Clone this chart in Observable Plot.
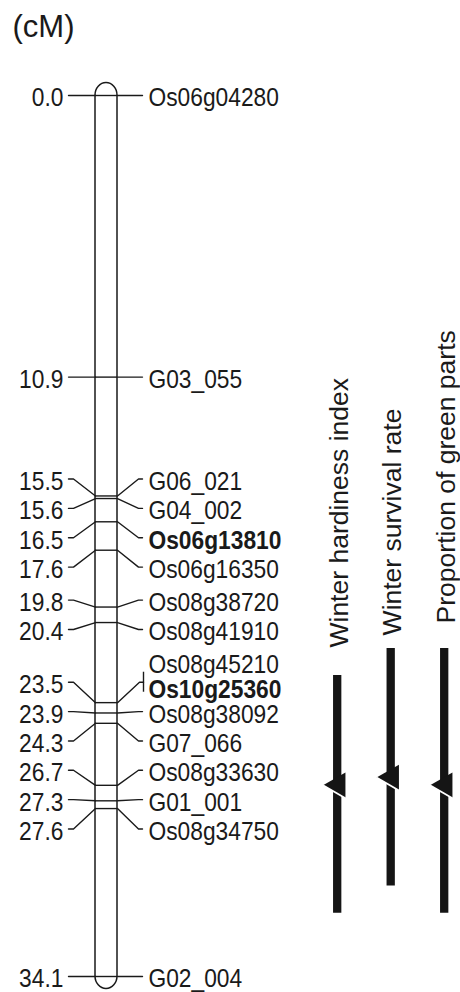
<!DOCTYPE html>
<html><head><meta charset="utf-8">
<script src="https://cdn.jsdelivr.net/npm/d3@7"></script>
<script src="https://cdn.jsdelivr.net/npm/@observablehq/plot@0.6"></script>
<style>
html,body{margin:0;padding:0;background:#fff;}
#chart svg{display:block;}
</style></head><body><div id="chart"></div>
<script>
// ---------- data ----------
const markerNames = ["Os06g04280","G03_055","G06_021","G04_002","Os06g13810","Os06g16350","Os08g38720","Os08g41910","Os08g45210","Os10g25360","Os08g38092","G07_066","Os08g33630","G01_001","Os08g34750","G02_004"];
const markerCM = [0.0,10.9,15.5,15.6,16.5,17.6,19.8,20.4,23.5,23.5,23.9,24.3,26.7,27.3,27.6,34.1];
const boldMarkers = ["Os06g13810","Os10g25360"];
const traits = ["Winter hardiness index","Winter survival rate","Proportion of green parts"];
const qtlStart = [22.45,21.4,21.4];
const qtlEnd = [31.65,30.6,31.65];
const qtlPeak = [26.7,26.4,26.7];
const unitLabel = "(cM)";

// ---------- layout ----------
const W = 460, H = 992, yTop = 95, yBot = 976;
const maxCM = d3.max(markerCM);
const pxPerCM = (yBot - yTop) / maxCM;
const px = v => v / pxPerCM;           // px -> cM offset
const spacing = px(29.35);
const chromL = 95, chromR = 117;
const leftAnchor = 63, rightAnchor = 148;
const ink = "#1a1a1a";
const squeezeX = 0.86;
const textDy = 2.5;

// unique positions + label dodge (clusters centred on the middle of their span)
const positions = Array.from(new Set(markerCM)).sort((a, b) => a - b);
const mk = items => ({items, mid: (d3.min(items) + d3.max(items)) / 2});
let clusters = positions.map(p => mk([p]));
const posOf = (c, i) => c.mid + (i - (c.items.length - 1) / 2) * spacing;
let merged = true;
while (merged) {
  merged = false;
  for (let i = 0; i < clusters.length - 1; i++) {
    const a = clusters[i], b = clusters[i + 1];
    if (posOf(a, a.items.length - 1) + spacing > posOf(b, 0) + 1e-9) {
      clusters.splice(i, 2, mk(a.items.concat(b.items)));
      merged = true; break;
    }
  }
}
const labelPos = new Map();
clusters.forEach(c => c.items.forEach((p, i) => labelPos.set(p, posOf(c, i))));

const leftPaths = [], rightPaths = [], leftLabels = [], rightLabels = [], brackets = [];
positions.forEach((p, k) => {
  const l = labelPos.get(p);
  const names = markerNames.filter((n, i) => markerCM[i] === p);
  leftPaths.push({k, x: 68, y: l}, {k, x: 73, y: l}, {k, x: chromL, y: p});
  leftLabels.push({y: l, text: p.toFixed(1)});
  if (names.length > 1) {
    rightPaths.push({k, x: chromR, y: p}, {k, x: 139, y: l}, {k, x: 143, y: l});
    brackets.push({y1: l - px(10), y2: l + px(10)});
    rightLabels.push({y: l - px(20), text: names[0], bold: boldMarkers.includes(names[0])});
    rightLabels.push({y: l + px(5), text: names[1], bold: boldMarkers.includes(names[1])});
  } else {
    rightPaths.push({k, x: chromR, y: p}, {k, x: 138, y: l}, {k, x: 142, y: l});
    rightLabels.push({y: l, text: names[0], bold: boldMarkers.includes(names[0])});
  }
});

const traitGap = [28, 13, 25];
const traitData = traits.map((t, i) => ({
  name: t, x: 336.7 + i * 53.5, start: qtlStart[i], end: qtlEnd[i], peak: qtlPeak[i],
  ly: qtlStart[i] - px(traitGap[i])
}));

const plot = Plot.plot({
  width: W, height: H, margin: 0,
  x: {type: "identity", axis: null},
  y: {domain: [0, maxCM], range: [yTop, yBot], axis: null},
  style: {fontFamily: "'Liberation Sans', Arial, Helvetica, sans-serif", fontSize: "26.5px", color: ink, background: "#fff"},
  marks: [
    Plot.text([unitLabel], {text: d => d, frameAnchor: "top-left", textAnchor: "start", lineAnchor: "top", dx: 12, dy: 14, fontSize: 31}),
    // marker ticks on chromosome
    Plot.ruleY(positions, {y: d => d, x1: chromL, x2: chromR, stroke: ink, strokeWidth: 1.4}),
    // chromosome outline
    Plot.rect([{}], {x1: chromL, x2: chromR, y1: 0, y2: maxCM, insetTop: -12.5, insetBottom: -12.5, rx: 11, ry: 12.5, fill: "none", stroke: ink, strokeWidth: 1.5}),
    // connectors
    Plot.line(leftPaths, {x: "x", y: "y", z: "k", stroke: ink, strokeWidth: 1.4, curve: "linear"}),
    Plot.line(rightPaths, {x: "x", y: "y", z: "k", stroke: ink, strokeWidth: 1.4, curve: "linear"}),
    Plot.ruleX(brackets, {x: 143, y1: "y1", y2: "y2", stroke: ink, strokeWidth: 1.4}),
    // labels
    Plot.text(leftLabels, {x: leftAnchor, y: "y", text: "text", textAnchor: "end", dy: textDy, ariaDescription: "hlabel-left"}),
    Plot.text(rightLabels.filter(d => !d.bold), {x: rightAnchor, y: "y", text: "text", textAnchor: "start", dy: textDy, ariaDescription: "hlabel-right"}),
    Plot.text(rightLabels.filter(d => d.bold), {x: rightAnchor, y: "y", text: "text", textAnchor: "start", dy: textDy, fontWeight: "bold", ariaDescription: "hlabel-right"}),
    // QTL bars
    Plot.ruleX(traitData, {x: "x", y1: "start", y2: "end", stroke: "#151515", strokeWidth: 8.3}),
    Plot.dot(traitData, {x: d => d.x + 0.8, y: "peak", symbol: "triangle", r: 9.6, rotate: -90, fill: "#151515", stroke: null}),
    Plot.link(traitData, {x1: d => d.x - 14.2, y1: "peak", x2: d => d.x + 10, y2: d => d.peak + px(14), stroke: "#fff", strokeWidth: 1.8}),
    Plot.text(traitData, {x: d => d.x + 2, y: "ly", text: "name", rotate: -90, textAnchor: "start"})
  ]
});

// horizontal compression of the marker labels about their common anchor x
const squeezeGroup = (desc, ax) => {
  plot.querySelectorAll(`g[aria-description='${desc}']`).forEach(g => {
    const tr = g.getAttribute("transform") || "";
    g.setAttribute("transform", `translate(${ax},0) scale(${squeezeX},1) translate(${-ax},0) ${tr}`);
  });
};
squeezeGroup("hlabel-left", leftAnchor);
squeezeGroup("hlabel-right", rightAnchor);
document.getElementById("chart").appendChild(plot);
</script>
</body></html>
